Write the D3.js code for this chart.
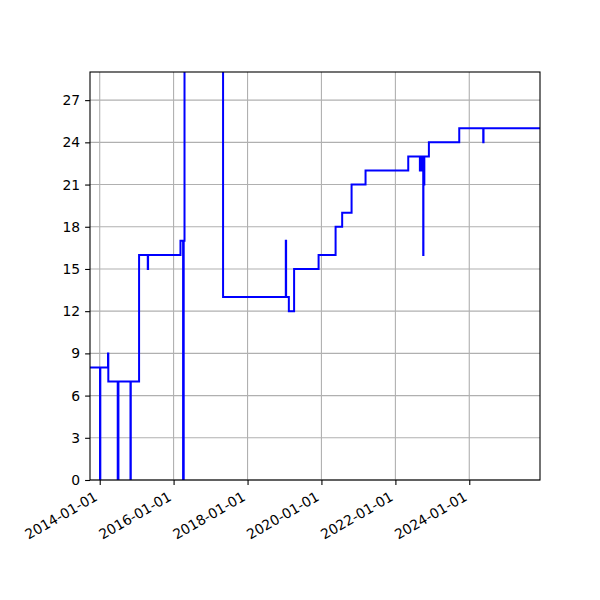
<!DOCTYPE html>
<html>
<head>
<meta charset="utf-8">
<script src="https://cdn.jsdelivr.net/npm/d3@7"></script>
<style>
  html, body { margin: 0; padding: 0; background: #fff; }
  svg { display: block; }
  text { font-family: "DejaVu Sans", sans-serif; font-size: 13.9px; fill: #000; }
</style>
</head>
<body>
<svg id="chart" width="600" height="600"></svg>
<script>
// step points: date where the level changes, and the new level
const changeDates = [
  "2013-09-27", "2014-01-04", "2014-01-07", "2014-03-24", "2014-03-27",
  "2014-06-28", "2014-07-05", "2014-11-01", "2014-11-04", "2015-01-25",
  "2015-04-21", "2015-04-24", "2016-03-09", "2016-04-04", "2016-04-10",
  "2016-04-18", "2017-05-04", "2019-01-14", "2019-01-17", "2019-02-13",
  "2019-04-06", "2019-12-04", "2020-05-20", "2020-07-24", "2020-10-25",
  "2021-03-12", "2022-05-08", "2022-08-31", "2022-09-04", "2022-09-10",
  "2022-09-14", "2022-09-20", "2022-09-25", "2022-10-03", "2022-10-05",
  "2022-10-06", "2022-10-09", "2022-10-12", "2022-10-14", "2022-11-28",
  "2023-09-24", "2024-05-18", "2024-05-21", "2025-11-30"
];
const levels = [
  8, 0, 8, 9, 7,
  0, 7, 0, 7, 16,
  15, 16, 17, 0, 17,
  40, 13, 17, 13, 12,
  15, 16, 18, 19, 21,
  22, 23, 22, 23, 22,
  23, 22, 23, 16, 23,
  21, 23, 21, 23, 24,
  25, 24, 25, 25
];

const xTickLabels = ["2014-01-01", "2016-01-01", "2018-01-01", "2020-01-01", "2022-01-01", "2024-01-01"];
const yTicks = [0, 3, 6, 9, 12, 15, 18, 21, 24, 27];
const yMax = 29;

const parse = d3.timeParse("%Y-%m-%d");
const points = changeDates.map((d, i) => ({ date: parse(d), value: levels[i] }));

// axes box in pixels
const box = { left: 90, right: 540, top: 72, bottom: 480 };

const svg = d3.select("#chart");

const x = d3.scaleTime()
  .domain(d3.extent(points, d => d.date))
  .range([box.left, box.right]);

const y = d3.scaleLinear()
  .domain([0, yMax])
  .range([box.bottom, box.top]);

// grid lines
const grid = svg.append("g");
grid.selectAll("line.gx")
  .data(xTickLabels.map(parse))
  .enter().append("line")
  .attr("x1", d => x(d)).attr("x2", d => x(d))
  .attr("y1", box.top).attr("y2", box.bottom)
  .attr("stroke", "#b0b0b0").attr("stroke-width", 1.1);
grid.selectAll("line.gy")
  .data(yTicks)
  .enter().append("line")
  .attr("x1", box.left).attr("x2", box.right)
  .attr("y1", d => y(d)).attr("y2", d => y(d))
  .attr("stroke", "#b0b0b0").attr("stroke-width", 1.1);

// clip the line to the axes box
svg.append("clipPath").attr("id", "clip")
  .append("rect")
  .attr("x", box.left).attr("y", box.top)
  .attr("width", box.right - box.left).attr("height", box.bottom - box.top);

const line = d3.line()
  .x(d => x(d.date))
  .y(d => y(d.value))
  .curve(d3.curveStepAfter);

svg.append("path")
  .datum(points)
  .attr("clip-path", "url(#clip)")
  .attr("fill", "none")
  .attr("stroke", "#0000ff")
  .attr("stroke-width", 2)
  .attr("d", line);

// x axis
const xAxis = d3.axisBottom(x)
  .tickValues(xTickLabels.map(parse))
  .tickFormat(d3.timeFormat("%Y-%m-%d"))
  .tickSize(4.9)
  .tickPadding(4.9);

const gx = svg.append("g")
  .attr("transform", `translate(0,${box.bottom})`)
  .call(xAxis);
gx.select(".domain").remove();
gx.selectAll(".tick line").attr("stroke", "#000").attr("stroke-width", 1.1);
gx.selectAll(".tick text")
  .attr("font-family", null).attr("font-size", null)
  .attr("text-anchor", "end")
  .attr("dy", null)
  .attr("x", 0).attr("y", 0)
  .attr("transform", "translate(-1.7,19.5) rotate(-30)");

// y axis
const yAxis = d3.axisLeft(y)
  .tickValues(yTicks)
  .tickSize(4.9)
  .tickPadding(4.9);

const gy = svg.append("g")
  .attr("transform", `translate(${box.left},0)`)
  .call(yAxis);
gy.select(".domain").remove();
gy.selectAll(".tick line").attr("stroke", "#000").attr("stroke-width", 1.1);
gy.selectAll(".tick text").attr("font-family", null).attr("font-size", null);

// frame
svg.append("rect")
  .attr("x", box.left).attr("y", box.top)
  .attr("width", box.right - box.left).attr("height", box.bottom - box.top)
  .attr("fill", "none")
  .attr("stroke", "#000")
  .attr("stroke-width", 1.1);
</script>
</body>
</html>
